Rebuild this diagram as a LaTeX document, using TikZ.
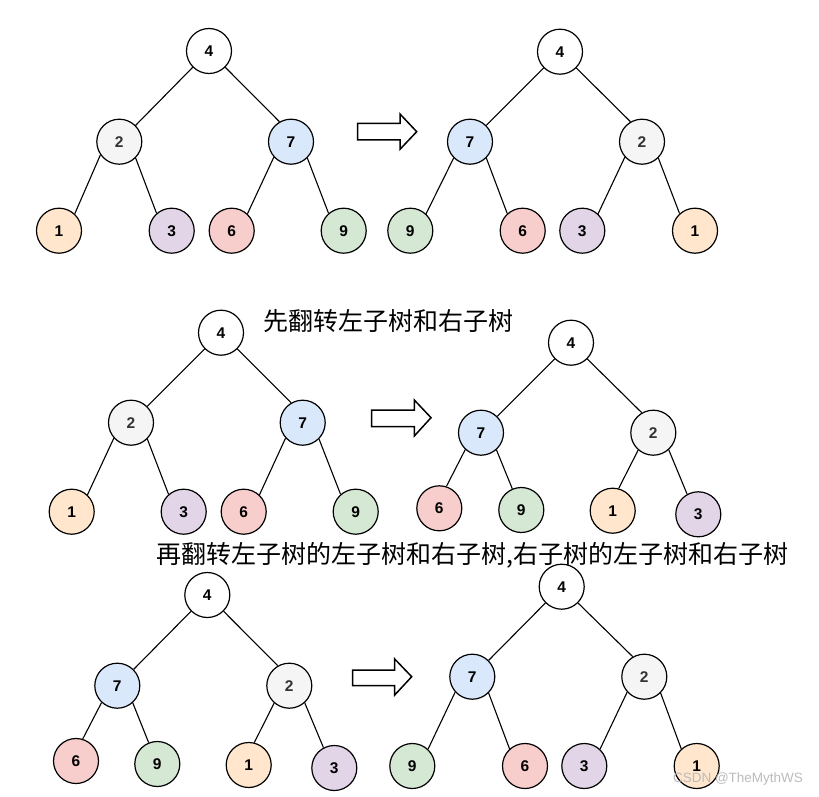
\documentclass[tikz,border=0pt]{standalone}
\usepackage{fontspec}
\setmainfont{Liberation Sans}
\newfontfamily\cjk{Noto Sans CJK SC}
\definecolor{cwhite}{HTML}{FFFFFF}
\definecolor{cgray}{HTML}{F5F5F5}
\definecolor{cblue}{HTML}{DAE8FC}
\definecolor{corange}{HTML}{FFE6CC}
\definecolor{cpurple}{HTML}{E1D5E7}
\definecolor{cred}{HTML}{F8CECC}
\definecolor{cgreen}{HTML}{D5E8D4}
\definecolor{txtgray}{HTML}{333333}
\definecolor{wmark}{HTML}{BBBBBB}
\tikzset{
  tn/.style={circle, draw=black, line width=1.2pt, minimum size=45pt, inner sep=0pt,
    font=\bfseries\fontsize{15.5}{15.5}\selectfont},
  k4/.style={tn, fill=cwhite},
  k2/.style={tn, fill=cgray, text=txtgray},
  k7/.style={tn, fill=cblue},
  k1/.style={tn, fill=corange},
  k3/.style={tn, fill=cpurple},
  k6/.style={tn, fill=cred},
  k9/.style={tn, fill=cgreen},
  edge/.style={line width=1.1pt, black},
  blockarrow/.style={line width=1.5pt, draw=black, fill=white, line join=miter},
  cjktext/.style={anchor=west, inner sep=0pt, text=black},
}
\begin{document}
\begin{tikzpicture}[x=1pt,y=-1pt]
\useasboundingbox (0,0) rectangle (819,797);

% Tree 1
\node[k4] (a4) at (209,51) {4};
\node[k2] (a2) at (119.3,141.7) {2};
\node[k7] (a7) at (291,141.7) {7};
\node[k1] (a1) at (59,230.7) {1};
\node[k3] (a3) at (171.7,230.7) {3};
\node[k6] (a6) at (231.7,230.7) {6};
\node[k9] (a9) at (343.7,230.7) {9};
\draw[edge] (a4.225) -- (a2.45);
\draw[edge] (a4.315) -- (a7.120);
\draw[edge] (a2.215) -- (a1.47);
\draw[edge] (a2.315) -- (a3.131);
\draw[edge] (a7.222) -- (a6.47);
\draw[edge] (a7.315) -- (a9.131);

% Tree 2
\node[k4] (b4) at (560,51.7) {4};
\node[k7] (b7) at (470,141.7) {7};
\node[k2] (b2) at (642,141.7) {2};
\node[k9] (b9) at (410.3,230.7) {9};
\node[k6] (b6) at (522.7,230.7) {6};
\node[k3] (b3) at (582.3,230.7) {3};
\node[k1] (b1) at (695,230.7) {1};
\draw[edge] (b4.225) -- (b7.45);
\draw[edge] (b4.315) -- (b2.120);
\draw[edge] (b7.225) -- (b9.47);
\draw[edge] (b7.315) -- (b6.132);
\draw[edge] (b2.222) -- (b3.47);
\draw[edge] (b2.315) -- (b1.132);

% Arrow 1
\draw[blockarrow] (357.7,123.3) -- (400,123.3) -- (400,114) -- (416.7,131.7) -- (400,149.3) -- (400,140) -- (357.7,140) -- cycle;

% Text 1
\node[cjktext, font=\cjk\fontsize{25}{25}\selectfont] (t1) at (263,321) {先翻转左子树和右子树};

% Tree 3
\node[k4] (c4) at (221,332.7) {4};
\node[k2] (c2) at (131,422.7) {2};
\node[k7] (c7) at (302.7,422.7) {7};
\node[k1] (c1) at (71.7,511.7) {1};
\node[k3] (c3) at (183.7,511.7) {3};
\node[k6] (c6) at (243.7,511.7) {6};
\node[k9] (c9) at (355.7,511.7) {9};
\draw[edge] (c4.225) -- (c2.45);
\draw[edge] (c4.315) -- (c7.120);
\draw[edge] (c2.222) -- (c1.47);
\draw[edge] (c2.315) -- (c3.131);
\draw[edge] (c7.222) -- (c6.47);
\draw[edge] (c7.315) -- (c9.131);

% Arrow 2
\draw[blockarrow] (371.7,410) -- (414.3,410) -- (414.3,400) -- (431,417.7) -- (414.3,436) -- (414.3,426.7) -- (371.7,426.7) -- cycle;

% Tree 4
\node[k4] (d4) at (571,342.7) {4};
\node[k7] (d7) at (481,432.7) {7};
\node[k2] (d2) at (653.3,432.7) {2};
\node[k6] (d6) at (439.3,508.3) {6};
\node[k9] (d9) at (521.3,510) {9};
\node[k1] (d1) at (612.7,510.7) {1};
\node[k3] (d3) at (698.3,514.3) {3};
\draw[edge] (d4.225) -- (d7.45);
\draw[edge] (d4.315) -- (d2.120);
\draw[edge] (d7.227) -- (d6.72);
\draw[edge] (d7.312) -- (d9.113);
\draw[edge] (d2.229) -- (d1.75);
\draw[edge] (d2.312) -- (d3.119);

% Text 2
\node[cjktext, font=\cjk\fontsize{25}{25}\selectfont] (t2) at (156.7,555) {再翻转左子树的左子树和右子树,右子树的左子树和右子树};

% Tree 5
\node[k4] (e4) at (207.3,595) {4};
\node[k7] (e7) at (117.3,685.7) {7};
\node[k2] (e2) at (289.3,685.7) {2};
\node[k6] (e6) at (76,761) {6};
\node[k9] (e9) at (157.3,764) {9};
\node[k1] (e1) at (248.7,765) {1};
\node[k3] (e3) at (334.3,768) {3};
\draw[edge] (e4.225) -- (e7.45);
\draw[edge] (e4.315) -- (e2.120);
\draw[edge] (e7.227) -- (e6.73);
\draw[edge] (e7.312) -- (e9.112);
\draw[edge] (e2.229) -- (e1.76);
\draw[edge] (e2.312) -- (e3.118);

% Arrow 3
\draw[blockarrow] (352.7,670) -- (394.7,670) -- (394.7,659) -- (411.7,676.7) -- (394.7,695) -- (394.7,685.7) -- (352.7,685.7) -- cycle;

% Tree 6
\node[k4] (f4) at (561.7,586.7) {4};
\node[k7] (f7) at (472.3,676.7) {7};
\node[k2] (f2) at (644.3,676.7) {2};
\node[k9] (f9) at (412.3,766) {9};
\node[k6] (f6) at (525,766) {6};
\node[k3] (f3) at (584.3,766) {3};
\node[k1] (f1) at (696.7,766) {1};
\draw[edge] (f4.225) -- (f7.45);
\draw[edge] (f4.315) -- (f2.120);
\draw[edge] (f7.222) -- (f9.47);
\draw[edge] (f7.315) -- (f6.132);
\draw[edge] (f2.222) -- (f3.47);
\draw[edge] (f2.315) -- (f1.132);

% Watermark
\node[text=wmark, font=\fontsize{13.5}{13.5}\selectfont, inner sep=0pt] (wm) at (738,779) {CSDN @TheMythWS};
\end{tikzpicture}
\end{document}
